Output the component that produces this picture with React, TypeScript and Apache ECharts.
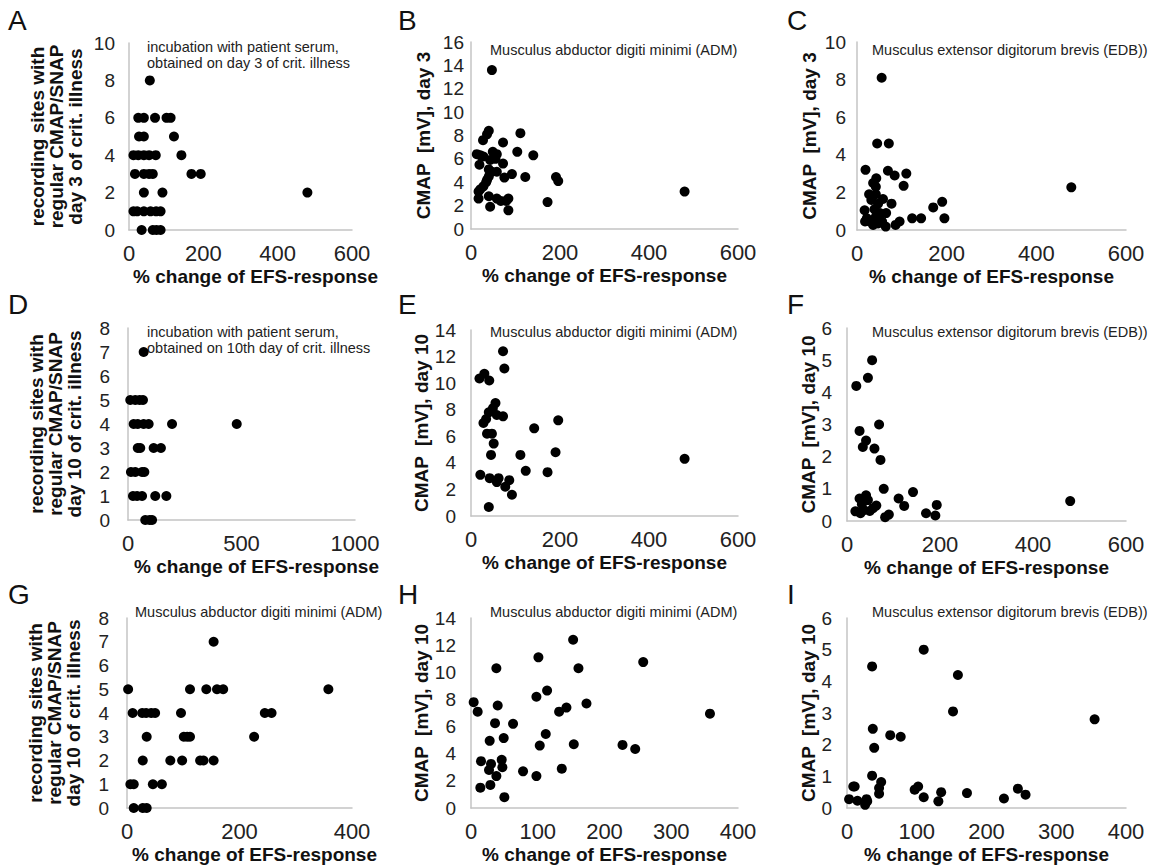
import React, { useEffect, useRef } from "react";
import * as echarts from "echarts";

// ---------- data (x: % change of EFS-response, y: value) ----------
const panelA = [
  [56, 8],
  [25, 6], [40, 6], [70, 6], [101, 6], [112, 6],
  [27, 5], [40, 5], [121, 5],
  [12, 4], [25, 4], [40, 4], [54, 4], [72, 4], [141, 4],
  [16, 3], [40, 3], [54, 3], [64, 3], [168, 3], [193, 3],
  [40, 2], [90, 2], [480, 2],
  [12, 1], [22, 1], [40, 1], [58, 1], [73, 1], [85, 1],
  [34, 0], [64, 0], [74, 0], [85, 0],
];
const panelB = [
  [47, 13.6], [40, 8.4], [36, 8.1], [27, 7.6], [111, 8.2], [72, 7.4], [104, 6.6], [140, 6.3],
  [13, 6.4], [21, 6.3], [28, 6.2], [19, 5.5], [49, 6.6], [58, 6.4], [43, 5.9], [55, 6.0],
  [72, 5.6], [40, 5.1], [47, 4.9], [58, 4.9], [92, 4.7], [40, 4.5], [75, 4.4], [122, 4.45],
  [191, 4.45], [196, 4.1], [34, 4.0], [28, 3.65], [21, 3.4], [17, 3.2], [36, 4.2], [480, 3.2],
  [17, 2.6], [40, 2.8], [58, 2.6], [67, 2.4], [79, 2.4], [84, 2.6], [43, 1.9], [84, 1.6], [172, 2.3],
];
const panelC = [
  [55, 8.1], [45, 4.6], [71, 4.6], [19, 3.2], [69, 3.15], [84, 2.9], [110, 3.0], [43, 2.75],
  [104, 2.35], [36, 2.5], [42, 2.3], [27, 1.9], [42, 1.9], [32, 1.6], [58, 1.65], [77, 1.4],
  [47, 1.4], [39, 1.1], [17, 1.05], [65, 0.9], [170, 1.2], [190, 1.5], [18, 0.45], [28, 0.45],
  [36, 0.27], [47, 0.35], [56, 0.45], [64, 0.18], [42, 0.7], [86, 0.27], [95, 0.45], [123, 0.62],
  [143, 0.62], [195, 0.62], [478, 2.27], [22, 0.62], [51, 0.9],
];
const panelD = [
  [69, 7],
  [10, 5], [32, 5], [51, 5], [66, 5],
  [25, 4], [43, 4], [69, 4], [91, 4], [194, 4], [479, 4],
  [43, 3], [54, 3], [113, 3], [145, 3],
  [13, 2], [32, 2], [62, 2], [72, 2],
  [22, 1], [40, 1], [62, 1], [120, 1], [169, 1],
  [76, 0], [95, 0], [106, 0],
];
const panelE = [
  [72, 12.4], [75, 11.1], [19, 10.35], [30, 10.7], [41, 10.2], [55, 8.5], [49, 8.1], [40, 7.8],
  [58, 7.6], [72, 7.5], [34, 7.3], [28, 7.0], [36, 6.2], [47, 6.2], [51, 5.45], [45, 4.6],
  [111, 4.6], [142, 6.6], [196, 7.2], [190, 4.8], [123, 3.4], [172, 3.3], [480, 4.3], [21, 3.1],
  [42, 2.85], [62, 2.85], [58, 2.55], [86, 2.7], [77, 2.2], [92, 1.6], [40, 0.68],
];
const panelF = [
  [54, 5.0], [45, 4.45], [20, 4.2], [69, 3.0], [27, 2.8], [41, 2.5], [34, 2.3], [59, 2.25],
  [72, 1.9], [79, 1.0], [142, 0.9], [111, 0.7], [123, 0.47], [27, 0.7], [41, 0.8], [45, 0.65],
  [193, 0.5], [480, 0.62], [18, 0.3], [29, 0.24], [36, 0.34], [49, 0.31], [56, 0.4], [63, 0.48],
  [82, 0.12], [90, 0.2], [170, 0.24], [190, 0.17], [32, 0.52],
];
const panelG = [
  [154, 7],
  [2, 5], [112, 5], [141, 5], [160, 5], [171, 5], [358, 5],
  [10, 4], [27, 4], [34, 4], [43, 4], [50, 4], [96, 4], [245, 4], [257, 4],
  [35, 3], [101, 3], [107, 3], [112, 3], [226, 3],
  [28, 2], [77, 2], [98, 2], [130, 2], [136, 2], [154, 2],
  [6, 1], [12, 1], [46, 1], [62, 1],
  [12, 0], [28, 0], [35, 0],
];
const panelH = [
  [153, 12.4], [101, 11.1], [161, 10.3], [38, 10.3], [258, 10.75], [114, 8.65], [98, 8.2],
  [4, 7.8], [40, 7.55], [173, 7.7], [143, 7.4], [132, 7.1], [10, 7.1], [358, 6.95], [36, 6.25],
  [63, 6.2], [112, 5.45], [49, 5.15], [28, 4.95], [103, 4.6], [154, 4.7], [227, 4.65], [246, 4.35],
  [46, 3.55], [15, 3.45], [30, 3.25], [47, 3.0], [27, 2.8], [78, 2.7], [38, 2.35], [98, 2.35],
  [136, 2.9], [14, 1.5], [29, 1.7], [50, 0.8],
];
const panelI = [
  [110, 5.0], [36, 4.47], [159, 4.2], [152, 3.05], [355, 2.8], [37, 2.5], [62, 2.3], [77, 2.25],
  [39, 1.9], [36, 1.02], [49, 0.82], [46, 0.63], [46, 0.45], [9, 0.68], [11, 0.68], [97, 0.58],
  [102, 0.68], [110, 0.34], [135, 0.5], [131, 0.21], [172, 0.47], [225, 0.3], [245, 0.61],
  [256, 0.42], [3, 0.28], [15, 0.23], [28, 0.28], [29, 0.21], [26, 0.1],
];

const panelLetters = ["A", "B", "C", "D", "E", "F", "G", "H", "I"];
const xMax = [600, 600, 600, 1000, 600, 600, 400, 400, 400];
const xStep = [200, 200, 200, 500, 200, 200, 200, 100, 100];
const yMax = [10, 16, 10, 8, 14, 6, 8, 14, 6];
const yStep = [2, 2, 2, 1, 2, 1, 1, 2, 1];
const xTitle = "% change of EFS-response";
const yTitles = [
  "recording sites with\nregular CMAP/SNAP\nday 3 of crit. illness",
  "CMAP  [mV], day 3",
  "CMAP  [mV], day 3",
  "recording sites with\nregular CMAP/SNAP\nday 10 of crit. illness",
  "CMAP  [mV], day 10",
  "CMAP  [mV], day 10",
  "recording sites with\nregular CMAP/SNAP\nday 10 of crit. illness",
  "CMAP  [mV], day 10",
  "CMAP  [mV], day 10",
];
const notes = [
  "incubation with patient serum,\nobtained on day 3 of crit. illness",
  "Musculus abductor digiti minimi (ADM)",
  "Musculus extensor digitorum brevis (EDB))",
  "incubation with patient serum,\nobtained on 10th day of crit. illness",
  "Musculus abductor digiti minimi (ADM)",
  "Musculus extensor digitorum brevis (EDB))",
  "Musculus abductor digiti minimi (ADM)",
  "Musculus abductor digiti minimi (ADM)",
  "Musculus extensor digitorum brevis (EDB))",
];
const panels = [panelA, panelB, panelC, panelD, panelE, panelF, panelG, panelH, panelI];

// ---------- layout ----------
const grids = [
  { left: 129, top: 43, width: 223, height: 187 },
  { left: 471, top: 42, width: 267, height: 187 },
  { left: 857, top: 42, width: 269, height: 188 },
  { left: 128, top: 328, width: 227, height: 192 },
  { left: 471, top: 330, width: 267, height: 186 },
  { left: 847, top: 328, width: 279, height: 193 },
  { left: 127, top: 618, width: 225, height: 190 },
  { left: 471, top: 618, width: 267, height: 190 },
  { left: 847, top: 618, width: 279, height: 190 },
];
const yLabelMargin = [14, 7, 11, 18, 15, 15, 18, 15, 15];
const yNameGap = [44, 38, 38, 44, 38, 27, 44, 38, 25];
const xNamePad = [30, 0, 0, 30, 0, 0, 30, 0, 0];
const letterPos = [
  [8, 6], [398, 6], [787, 6],
  [8, 290], [398, 290], [787, 290],
  [8, 580], [398, 580], [787, 580],
];
const notePos = [
  [147, 39], [490, 42], [872, 42],
  [147, 324], [490, 324], [872, 324],
  [135, 604], [490, 604], [872, 604],
];

const FONT = "'Liberation Sans', Arial, sans-serif";
const AXIS_COLOR = "#c4c4c4";
const TEXT_COLOR = "#222";

export default function App() {
  const ref = useRef<HTMLDivElement>(null);
  useEffect(() => {
    if (!ref.current) return;
    const chart = echarts.init(ref.current, null, { renderer: "svg" });
    const option: any = {
      animation: false,
      backgroundColor: "#fff",
      textStyle: { fontFamily: FONT },
      grid: grids.map((g) => ({ ...g, containLabel: false })),
      xAxis: grids.map((_, i) => ({
        gridIndex: i,
        type: "value",
        min: 0,
        max: xMax[i],
        interval: xStep[i],
        axisLine: { show: true, onZero: false, lineStyle: { color: AXIS_COLOR, width: 1.5 } },
        axisTick: { show: false },
        splitLine: { show: false },
        axisLabel: {
          fontSize: 22,
          color: TEXT_COLOR,
          margin: 12,
          fontFamily: FONT,
          formatter: (v: number) => String(v),
        },
        name: xTitle,
        nameLocation: "middle",
        nameGap: 37,
        nameTextStyle: {
          fontSize: 19,
          fontWeight: "bold",
          color: "#111",
          fontFamily: FONT,
          padding: [0, 0, 0, xNamePad[i]],
        },
      })),
      yAxis: grids.map((_, i) => ({
        gridIndex: i,
        type: "value",
        min: 0,
        max: yMax[i],
        interval: yStep[i],
        axisLine: { show: true, onZero: false, lineStyle: { color: AXIS_COLOR, width: 1.5 } },
        axisTick: { show: false },
        splitLine: { show: false },
        axisLabel: {
          fontSize: 19,
          color: TEXT_COLOR,
          margin: yLabelMargin[i],
          fontFamily: FONT,
          formatter: (v: number) => String(v),
        },
        name: yTitles[i],
        nameLocation: "middle",
        nameRotate: 90,
        nameGap: yNameGap[i],
        nameTextStyle: {
          fontSize: 19,
          fontWeight: "bold",
          color: "#111",
          lineHeight: 19,
          fontFamily: FONT,
        },
      })),
      series: panels.map((d, i) => ({
        type: "scatter",
        xAxisIndex: i,
        yAxisIndex: i,
        data: d,
        symbol: "circle",
        symbolSize: 10,
        itemStyle: { color: "#000", opacity: 1 },
      })),
      graphic: [
        ...panelLetters.map((t, i) => ({
          type: "text",
          left: letterPos[i][0],
          top: letterPos[i][1],
          style: { text: t, fontSize: 28, fill: "#111", fontFamily: FONT },
        })),
        ...notes.map((t, i) => ({
          type: "text",
          left: notePos[i][0],
          top: notePos[i][1],
          style: { text: t, fontSize: 14.5, lineHeight: 16, fill: "#222", fontFamily: FONT },
        })),
      ],
    };
    chart.setOption(option);
    return () => chart.dispose();
  }, []);
  return (
    <div
      ref={ref}
      style={{ position: "absolute", left: 0, top: 0, width: 1160, height: 868, background: "#fff" }}
    />
  );
}
